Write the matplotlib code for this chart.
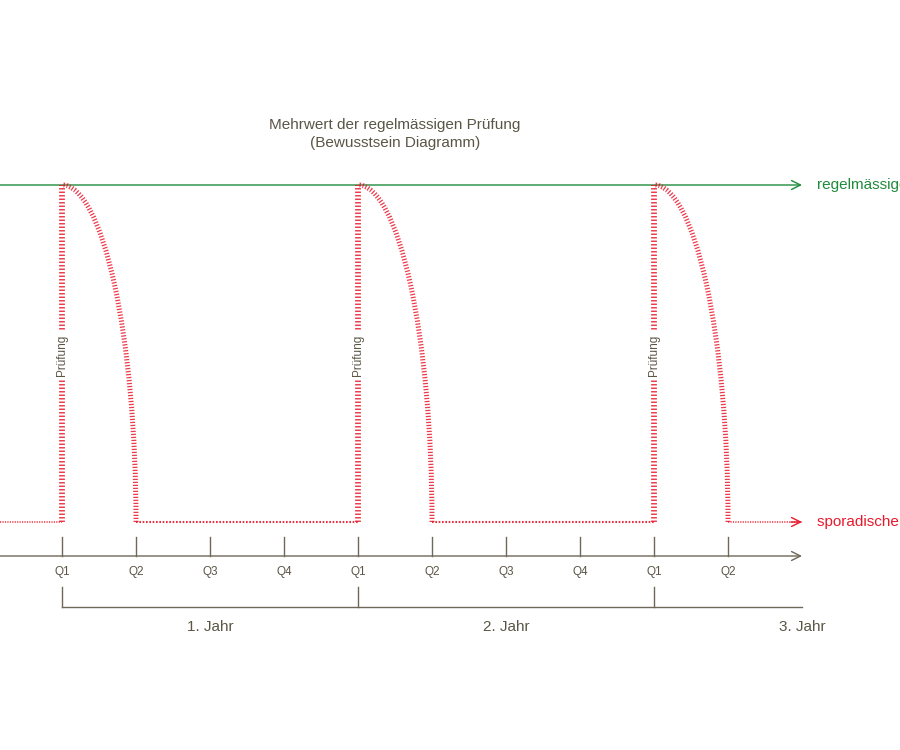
import matplotlib
matplotlib.use('Agg')
import matplotlib.pyplot as plt
from matplotlib.patches import Arc

plt.rcParams['font.family'] = ['Liberation Sans', 'DejaVu Sans']

# data
quarters = ['Q1', 'Q2', 'Q3', 'Q4', 'Q1', 'Q2', 'Q3', 'Q4', 'Q1', 'Q2']
years = ['1. Jahr', '2. Jahr', '3. Jahr']
year_start = [0, 4, 8]          # quarter index where each year starts
tests = [0, 4, 8]               # quarter index of each Prüfung
decay = 1                       # quarters until awareness drops back
high, low = 1.0, 0.0            # regelmässig / sporadisch level
series_labels = ['regelmässige Prüfung', 'sporadische Prüfung']
title = 'Mehrwert der regelmässigen Prüfung\n(Bewusstsein Diagramm)'

green = '#1f8b3b'
red = '#e8192c'
grey = '#6e6858'
text_grey = '#5a5545'

fig = plt.figure(figsize=(9, 7.5), dpi=100)
ax = fig.add_axes([0, 0, 1, 1])
ax.set_xlim(-62 / 74, (900 - 62) / 74)
ax.set_ylim((522 - 750) / 337, 522 / 337)
ax.axis('off')

x_end = 10.0
x_start = ax.get_xlim()[0]

# regelmässig line (green)
ax.annotate('', xy=(x_end, high), xytext=(x_start, high),
            arrowprops=dict(arrowstyle='->', color=green, lw=1.0,
                            mutation_scale=16, shrinkA=0, shrinkB=0))
ax.text(x_end + 0.2, high, series_labels[0], color=green, fontsize=11,
        va='center', ha='left')

# sporadisch baseline segments (red dotted)
ends = [t + decay for t in tests]
segs = [(x_start, tests[0])] + [(ends[i], tests[i + 1]) for i in range(len(tests) - 1)] + [(ends[-1], x_end)]
for i, (a, b) in enumerate(segs):
    lw = 1.5 if 0 < i < len(segs) - 1 else 1.1
    ax.plot([a, b], [low, low], color=red, lw=lw, ls=(0, (0.8, 0.8)),
            dash_capstyle='butt', alpha=0.9)
ax.annotate('', xy=(x_end, low), xytext=(x_end - 0.15, low),
            arrowprops=dict(arrowstyle='->', color=red, lw=1.0,
                            mutation_scale=16, shrinkA=0, shrinkB=0))
ax.text(x_end + 0.2, low, series_labels[1], color=red, fontsize=11,
        va='center', ha='left')

# Prüfung spikes and decay
hatch = (0, (0.25, 0.35))
for t in tests:
    ax.plot([t, t], [low, high], color=red, lw=4.2, ls=hatch,
            dash_capstyle='butt', zorder=3, alpha=0.85)
    arc = Arc((t, low), 2 * decay, 2 * (high - low), theta1=0, theta2=90,
              color=red, lw=3.6, ls=hatch, zorder=3, alpha=0.85)
    ax.add_patch(arc)
    ax.text(t, 0.4955, 'Prüfung', rotation=90, ha='center', va='center',
            fontsize=8.5, color=text_grey, zorder=4,
            bbox=dict(facecolor='white', edgecolor='none', pad=2.5))

# time axis
y_axis = (522 - 556) / 337
y_tick = (522 - 537) / 337
ax.annotate('', xy=(x_end, y_axis), xytext=(x_start, y_axis),
            arrowprops=dict(arrowstyle='->', color=grey, lw=1.0,
                            mutation_scale=16, shrinkA=0, shrinkB=0))
for i, q in enumerate(quarters):
    ax.plot([i, i], [y_tick, y_axis], color=grey, lw=1.0)
    ax.text(i, (522 - 572) / 337, q, ha='center', va='center',
            fontsize=8.5, color=text_grey)

# year bracket
y_br = (522 - 607) / 337
y_br_top = (522 - 587) / 337
ax.plot([year_start[0], x_end], [y_br, y_br], color=grey, lw=1.0)
for ys in year_start:
    ax.plot([ys, ys], [y_br_top, y_br], color=grey, lw=1.0)
for i, y in enumerate(years):
    ax.text(year_start[i] + 2, (522 - 627) / 337, y, ha='center', va='center',
            fontsize=11, color=text_grey)

# title
ax.text((395 - 62) / 74, (522 - 134) / 337, title, ha='center', va='center',
        fontsize=11, color=text_grey, linespacing=1.3)

fig.savefig('out.png', dpi=100)
